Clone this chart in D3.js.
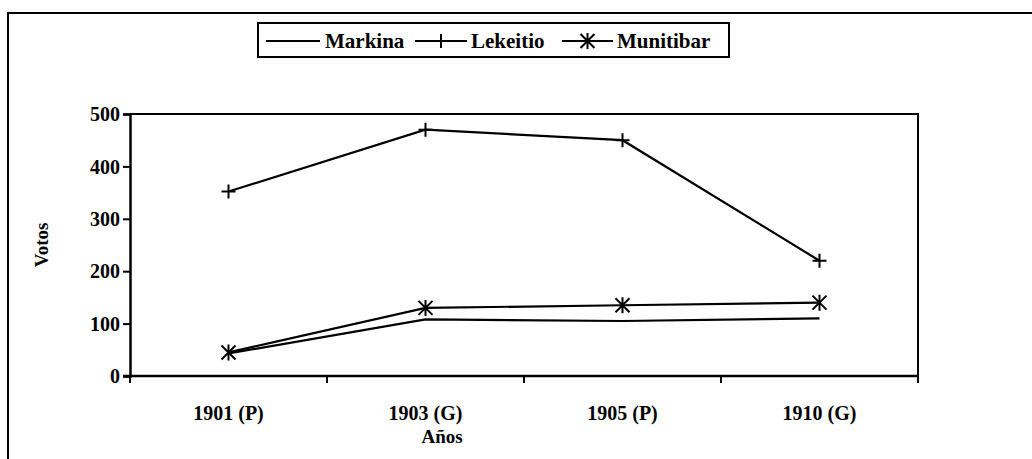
<!DOCTYPE html>
<html>
<head>
<meta charset="utf-8">
<script src="https://cdn.jsdelivr.net/npm/d3@7"></script>
<style>
  body { margin: 0; background: #fff; }
  svg { display: block; }
  svg text { font-weight: 700; fill: #000; }
</style>
</head>
<body>
<svg width="1032" height="459"></svg>
<script>
var categories = ["1901 (P)", "1903 (G)", "1905 (P)", "1910 (G)"];
var markina = [43, 108, 105, 110];
var lekeitio = [352, 470, 450, 220];
var munitibar = [45, 130, 135, 140];
var yTicks = [0, 100, 200, 300, 400, 500];

var series = [
    { name: "Markina", values: markina, marker: "none" },
    { name: "Lekeitio", values: lekeitio, marker: "plus" },
    { name: "Munitibar", values: munitibar, marker: "star" }
];

var serif = "'Liberation Serif', monospace";
var svg = d3.select("svg");

// outer frame (cropped at right and bottom)
svg.append("path")
    .attr("d", "M8,470 V13 H1040")
    .attr("fill", "none")
    .attr("stroke", "#000")
    .attr("stroke-width", 2);

var margin = { left: 130, top: 114, right: 918, bottom: 376 };

var x = d3.scaleBand()
    .domain(categories)
    .range([margin.left, margin.right]);

var y = d3.scaleLinear()
    .domain([0, 500])
    .range([margin.bottom, margin.top]);

// plot border (top and right)
svg.append("path")
    .attr("d", "M" + margin.left + "," + margin.top + " H" + margin.right + " V" + margin.bottom)
    .attr("fill", "none")
    .attr("stroke", "#000")
    .attr("stroke-width", 2);

// y axis
var yAxis = svg.append("g")
    .attr("transform", "translate(" + margin.left + ",0)")
    .call(d3.axisLeft(y).tickValues(yTicks).tickSize(7).tickPadding(3));
yAxis.attr("font-family", null).attr("font-size", null);
yAxis.select(".domain").attr("stroke-width", 2.5);
yAxis.selectAll(".tick line").attr("stroke-width", 2);
yAxis.selectAll("text")
    .style("font-family", serif)
    .style("font-size", "20px")
    .attr("dy", "0.33em");

// x axis, ticks between categories
var bounds = categories.map(function(c) { return x(c); }).concat([margin.right]);
var xAxis = svg.append("g")
    .attr("transform", "translate(0," + margin.bottom + ")");
xAxis.append("line")
    .attr("x1", margin.left - 7).attr("x2", margin.right)
    .attr("stroke", "#000").attr("stroke-width", 2.5);
xAxis.selectAll(".tk")
    .data(bounds)
    .enter().append("line")
    .attr("x1", function(d) { return d; })
    .attr("x2", function(d) { return d; })
    .attr("y1", 0).attr("y2", 7)
    .attr("stroke", "#000").attr("stroke-width", 2);
xAxis.selectAll(".lbl")
    .data(categories)
    .enter().append("text")
    .attr("x", function(d) { return x(d) + x.bandwidth() / 2; })
    .attr("y", 44)
    .attr("text-anchor", "middle")
    .style("font-family", serif)
    .style("font-size", "20px")
    .text(function(d) { return d; });

// axis titles
svg.append("text")
    .attr("transform", "translate(48,245) rotate(-90)")
    .attr("text-anchor", "middle")
    .style("font-family", serif)
    .style("font-size", "19px")
    .text("Votos");
svg.append("text")
    .attr("x", 442)
    .attr("y", 443)
    .attr("text-anchor", "middle")
    .style("font-family", serif)
    .style("font-size", "19px")
    .text("Años");

function drawMarker(g, type, cx, cy) {
    var s = 7;
    if (type === "plus") {
        g.append("path")
            .attr("d", "M" + (cx - s) + "," + cy + "H" + (cx + s) + "M" + cx + "," + (cy - s) + "V" + (cy + s))
            .attr("stroke", "#000").attr("stroke-width", 2).attr("fill", "none");
    } else if (type === "star") {
        var d = "M" + (cx - s) + "," + (cy - s) + "L" + (cx + s) + "," + (cy + s) +
                "M" + (cx - s) + "," + (cy + s) + "L" + (cx + s) + "," + (cy - s) +
                "M" + cx + "," + (cy - s - 1) + "V" + (cy + s + 1);
        g.append("path")
            .attr("d", d)
            .attr("stroke", "#000").attr("stroke-width", 2).attr("fill", "none");
    }
}

var line = d3.line()
    .x(function(d, i) { return x(categories[i]) + x.bandwidth() / 2; })
    .y(function(d) { return y(d); });

series.forEach(function(s) {
    var g = svg.append("g");
    g.append("path")
        .datum(s.values)
        .attr("d", line)
        .attr("fill", "none")
        .attr("stroke", "#000")
        .attr("stroke-width", 2.2);
    s.values.forEach(function(v, i) {
        drawMarker(g, s.marker, x(categories[i]) + x.bandwidth() / 2, y(v));
    });
});

// legend
var legend = svg.append("g");
legend.append("rect")
    .attr("x", 258).attr("y", 23)
    .attr("width", 471).attr("height", 34)
    .attr("fill", "#fff").attr("stroke", "#000").attr("stroke-width", 2);

var legendItems = [
    { x1: 266, x2: 320, tx: 325 },
    { x1: 415, x2: 467, tx: 471 },
    { x1: 562, x2: 613, tx: 617 }
];
series.forEach(function(s, i) {
    var it = legendItems[i];
    var ly = 41;
    legend.append("line")
        .attr("x1", it.x1).attr("x2", it.x2)
        .attr("y1", ly).attr("y2", ly)
        .attr("stroke", "#000").attr("stroke-width", 2);
    drawMarker(legend, s.marker, (it.x1 + it.x2) / 2, ly);
    legend.append("text")
        .attr("x", it.tx).attr("y", ly + 7)
        .style("font-family", serif)
        .style("font-size", "21px")
        .text(s.name);
});
</script>
</body>
</html>
